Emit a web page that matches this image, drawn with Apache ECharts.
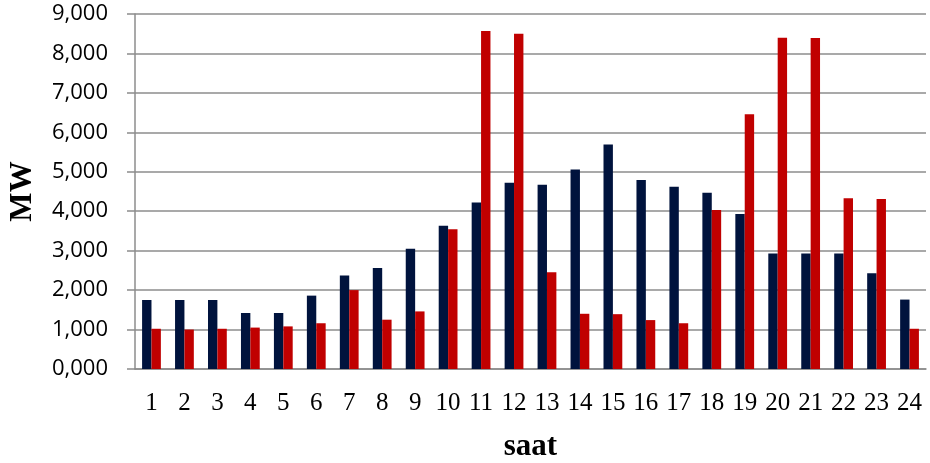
<!DOCTYPE html>
<html>
<head>
<meta charset="utf-8">
<script src="https://cdn.jsdelivr.net/npm/echarts@6/dist/echarts.min.js"></script>
<style>
html,body{margin:0;padding:0;background:#fff;}
#chart{width:930px;height:463px;}
</style>
</head>
<body>
<div id="chart"></div>
<script>
var hours = ['1','2','3','4','5','6','7','8','9','10','11','12','13','14','15','16','17','18','19','20','21','22','23','24'];
var seriesBlue = [1750,1750,1750,1420,1420,1860,2370,2560,3050,3630,4220,4720,4670,5060,5690,4790,4620,4470,3930,2930,2930,2930,2430,1760];
var seriesRed = [1020,1000,1020,1050,1080,1160,2000,1250,1460,3540,8570,8500,2450,1400,1390,1240,1160,4030,6460,8400,8390,4330,4310,1020];
var yTicks = [0,1000,2000,3000,4000,5000,6000,7000,8000,9000];

var chart = echarts.init(document.getElementById('chart'));
chart.setOption({
  animation: false,
  grid: {left: 135, right: 4, top: 14, bottom: 94, containLabel: false, outerBoundsMode: 'none'},
  xAxis: {
    type: 'category',
    data: hours,
    name: 'saat',
    nameLocation: 'middle',
    nameGap: 62,
    nameTextStyle: {fontFamily: 'Liberation Serif', fontWeight: 'bold', fontSize: 31, color: '#000'},
    axisLine: {show: true, lineStyle: {color: '#8c8c8c', width: 1.5}},
    axisTick: {show: false},
    axisLabel: {fontFamily: 'Liberation Serif', fontSize: 25, color: '#000', margin: 22, interval: 0}
  },
  yAxis: {
    type: 'value',
    min: yTicks[0],
    max: yTicks[yTicks.length - 1],
    interval: 1000,
    name: 'MW',
    nameLocation: 'middle',
    nameGap: 97,
    nameRotate: 90,
    nameTextStyle: {fontFamily: 'Liberation Serif', fontWeight: 'bold', fontSize: 31, color: '#000'},
    axisLine: {show: true, lineStyle: {color: '#8c8c8c', width: 1.5}},
    axisTick: {show: true, length: 8, lineStyle: {color: '#8c8c8c', width: 1.5}},
    splitLine: {show: true, lineStyle: {color: '#8c8c8c', width: 1.5}},
    axisLabel: {
      fontFamily: 'Open Sans', fontSize: 22, color: '#000', margin: 27,
      formatter: function (v) {
        var th = Math.floor(v / 1000);
        var r = v % 1000;
        return th + ',' + ('000' + r).slice(-3);
      }
    }
  },
  series: [
    {type: 'bar', data: seriesBlue, barGap: '0%', barCategoryGap: '43%', itemStyle: {color: '#00133d'}},
    {type: 'bar', data: seriesRed, barGap: '0%', barCategoryGap: '43%', itemStyle: {color: '#c00000'}}
  ]
});
</script>
</body>
</html>
